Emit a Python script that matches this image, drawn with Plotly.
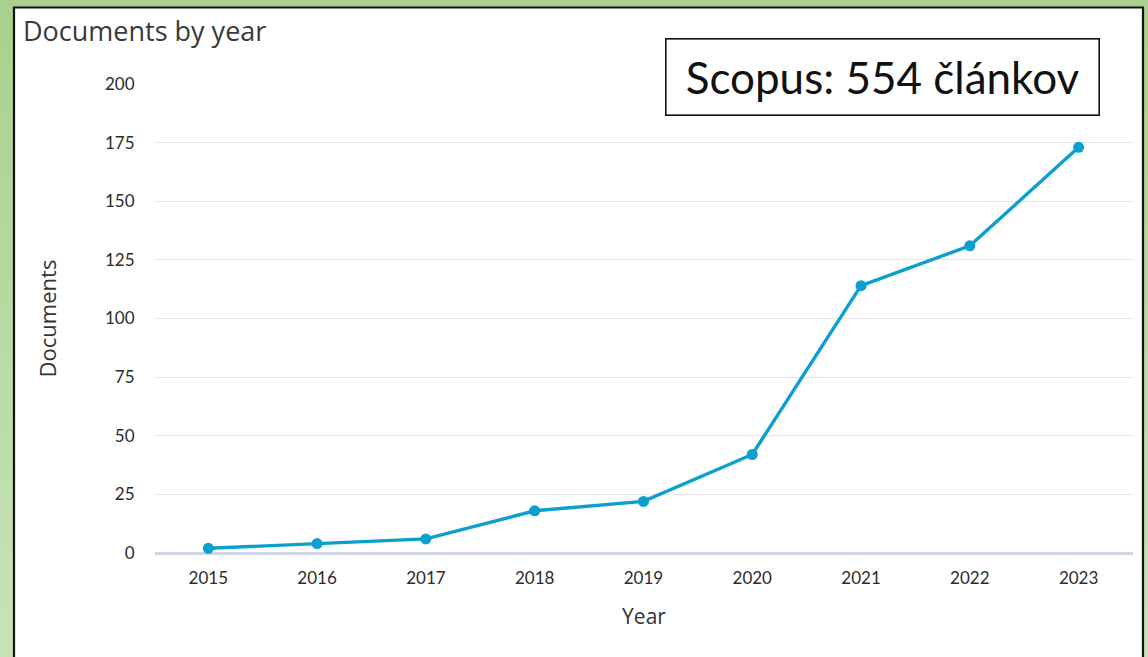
import plotly.graph_objects as go

years = ["2015", "2016", "2017", "2018", "2019", "2020", "2021", "2022", "2023"]
documents = [2, 4, 6, 18, 22, 42, 114, 131, 173]
y_ticks = [0, 25, 50, 75, 100, 125, 150, 175, 200]

W, H = 1148, 657
L, R, T, B = 155, 15, 84, 104
PW, PH = W - L - R, H - T - B


def px(x):
    return (x - L) / PW


def py(y):
    return (H - B - y) / PH


fig = go.Figure()
fig.add_trace(go.Scatter(
    x=list(range(len(years))), y=documents, mode="lines+markers",
    line=dict(color="#0b9fcf", width=3.4),
    marker=dict(color="#0b9fcf", size=11),
    cliponaxis=False, hoverinfo="skip", showlegend=False,
))

shapes = []
# green vertical gradient background
top = (169, 209, 142)
bot = (201, 226, 183)
n = 30
for i in range(n):
    t = i / (n - 1)
    c = tuple(round(top[k] + (bot[k] - top[k]) * t) for k in range(3))
    shapes.append(dict(type="rect", xref="paper", yref="paper", layer="below",
                       x0=px(-5), x1=px(W + 5), y0=py(H * (i + 1) / n + 1), y1=py(H * i / n),
                       line=dict(width=0), fillcolor="rgb(%d,%d,%d)" % c))
# white panel with dark border
shapes.append(dict(type="rect", xref="paper", yref="paper", layer="below",
                   x0=px(14), x1=px(1143), y0=py(H + 20), y1=py(7.5),
                   line=dict(color="#111111", width=2.2), fillcolor="white"))

fig.update_layout(
    width=W, height=H,
    margin=dict(l=L, r=R, t=T, b=B),
    paper_bgcolor="rgb(169,209,142)",
    plot_bgcolor="white",
    shapes=shapes,
    xaxis=dict(
        range=[-0.49, 8.5], tickmode="array", tickvals=list(range(len(years))), ticktext=years,
        showgrid=False, zeroline=False, showline=False,
        ticks="outside", ticklen=10, tickcolor="rgba(0,0,0,0)",
        tickfont=dict(family="Lato", size=17, color="#2b2b2b"),
        title=dict(text="Year", font=dict(family="Open Sans", size=21, color="#333333"), standoff=21),
        fixedrange=True,
    ),
    yaxis=dict(
        range=[0, 200], tickmode="array", tickvals=y_ticks,
        showgrid=True, gridcolor="#e4e4e4", gridwidth=1,
        zeroline=True, zerolinecolor="#d0d5e3", zerolinewidth=2.5, showline=False,
        ticks="outside", ticklen=16, tickcolor="rgba(0,0,0,0)",
        tickfont=dict(family="Lato", size=17, color="#2b2b2b"),
        title=dict(text="Documents", font=dict(family="Open Sans", size=22, color="#333333"), standoff=42),
        fixedrange=True,
    ),
    annotations=[
        dict(text="Documents by year", xref="paper", yref="paper", x=px(21), y=py(31),
             xanchor="left", yanchor="middle", showarrow=False,
             font=dict(family="Open Sans", size=27, color="#3a3a3a")),
        dict(text="Scopus: 554 článkov", xref="paper", yref="paper", x=px(882.5), y=py(76.5),
             xanchor="center", yanchor="middle", showarrow=False,
             width=428, height=71, align="center", valign="middle",
             bgcolor="white", bordercolor="#111111", borderwidth=1.6, borderpad=2,
             font=dict(family="Lato", size=44, color="#111111")),
    ],
)

fig.write_html("out.html", config={"displayModeBar": False},
               post_script="document.body.style.margin='0';")
